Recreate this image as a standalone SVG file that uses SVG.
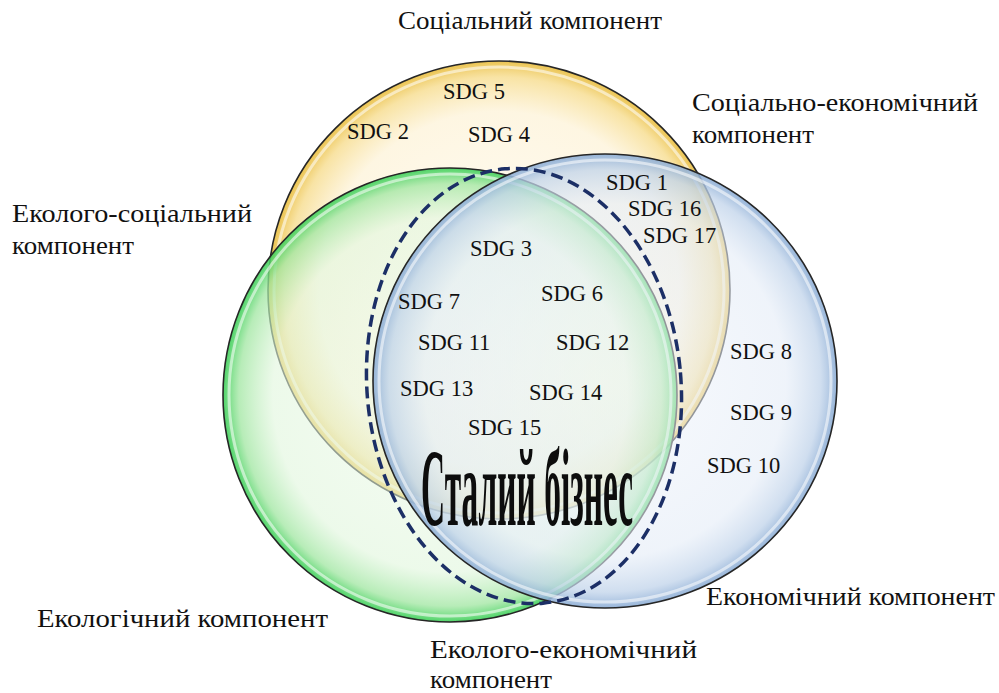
<svg xmlns="http://www.w3.org/2000/svg" width="999" height="693" viewBox="0 0 999 693">
<defs>
<radialGradient id="gY" cx="0.5" cy="0.5" r="0.5">
<stop offset="0" stop-color="#fffbef" stop-opacity="0.6"/>
<stop offset="0.78" stop-color="#fdf1d2" stop-opacity="0.65"/>
<stop offset="0.93" stop-color="#f6da86" stop-opacity="0.75"/>
<stop offset="1" stop-color="#e9bd3e" stop-opacity="0.9"/>
</radialGradient>
<radialGradient id="gG" cx="0.5" cy="0.5" r="0.5">
<stop offset="0" stop-color="#eef9ea" stop-opacity="0.5"/>
<stop offset="0.78" stop-color="#e0f6dc" stop-opacity="0.6"/>
<stop offset="0.93" stop-color="#9fe6a0" stop-opacity="0.75"/>
<stop offset="1" stop-color="#3ccf58" stop-opacity="0.9"/>
</radialGradient>
<radialGradient id="gB" cx="0.5" cy="0.5" r="0.5">
<stop offset="0" stop-color="#f1f5fb" stop-opacity="0.5"/>
<stop offset="0.78" stop-color="#e4ecf7" stop-opacity="0.6"/>
<stop offset="0.93" stop-color="#c0d3ea" stop-opacity="0.75"/>
<stop offset="1" stop-color="#8cadd5" stop-opacity="0.9"/>
</radialGradient>
</defs>
<style>
.rim{stroke:#262626;stroke-width:1.6}
.hl{fill:none;stroke:#ffffff;stroke-width:3;stroke-opacity:0.55}
.sdg{font-family:"Liberation Serif","Times New Roman",serif;font-size:22.5px;fill:#111}
.lbl{font-family:"Liberation Serif","Times New Roman",serif;font-size:26px;fill:#111}
.big{font-family:"Liberation Serif","Times New Roman",serif;font-weight:bold;font-size:110px;fill:#0d0d0d}
.dash{fill:none;stroke:#1c2f66;stroke-width:3.5;stroke-dasharray:12 6}
</style>
<g id="social">
<ellipse cx="499" cy="290" rx="231" ry="229" fill="url(#gY)" class="rim"/>
<ellipse cx="499" cy="290" rx="225" ry="223" class="hl"/>
</g>
<g id="ecological">
<ellipse cx="450" cy="395" rx="227" ry="227" fill="url(#gG)" class="rim"/>
<ellipse cx="450" cy="395" rx="221" ry="221" class="hl"/>
</g>
<g id="economic">
<ellipse cx="605" cy="381" rx="232" ry="227" fill="url(#gB)" class="rim"/>
<ellipse cx="605" cy="381" rx="226" ry="221" class="hl"/>
</g>
<g id="connectors">
<ellipse cx="524" cy="386" rx="157" ry="218" transform="rotate(-5 524 386)" class="dash"/>
</g>
<g id="labels">
<text class="lbl" x="398" y="29" textLength="264" lengthAdjust="spacingAndGlyphs">Соціальний компонент</text>
<text class="lbl" x="692" y="111" textLength="286" lengthAdjust="spacingAndGlyphs">Соціально-економічний</text>
<text class="lbl" x="692" y="143" textLength="122" lengthAdjust="spacingAndGlyphs">компонент</text>
<text class="lbl" x="12" y="222" textLength="240" lengthAdjust="spacingAndGlyphs">Еколого-соціальний</text>
<text class="lbl" x="12" y="254" textLength="122" lengthAdjust="spacingAndGlyphs">компонент</text>
<text class="lbl" x="37" y="627" textLength="291" lengthAdjust="spacingAndGlyphs">Екологічний компонент</text>
<text class="lbl" x="706" y="605" textLength="289" lengthAdjust="spacingAndGlyphs">Економічний компонент</text>
<text class="lbl" x="430" y="658" textLength="267" lengthAdjust="spacingAndGlyphs">Еколого-економічний</text>
<text class="lbl" x="430" y="688" textLength="122" lengthAdjust="spacingAndGlyphs">компонент</text>
</g>
<g id="sdgs">
<text class="sdg" x="443" y="99">SDG 5</text>
<text class="sdg" x="347" y="139">SDG 2</text>
<text class="sdg" x="468" y="142">SDG 4</text>
<text class="sdg" x="606" y="190">SDG 1</text>
<text class="sdg" x="628" y="216">SDG 16</text>
<text class="sdg" x="643" y="243">SDG 17</text>
<text class="sdg" x="470" y="256">SDG 3</text>
<text class="sdg" x="398" y="309">SDG 7</text>
<text class="sdg" x="541" y="301">SDG 6</text>
<text class="sdg" x="418" y="350">SDG 11</text>
<text class="sdg" x="556" y="350">SDG 12</text>
<text class="sdg" x="730" y="359">SDG 8</text>
<text class="sdg" x="400" y="396">SDG 13</text>
<text class="sdg" x="529" y="400">SDG 14</text>
<text class="sdg" x="730" y="420">SDG 9</text>
<text class="sdg" x="468" y="435">SDG 15</text>
<text class="sdg" x="707" y="473">SDG 10</text>
</g>
<g id="title">
<text class="big" x="421" y="525" textLength="212" lengthAdjust="spacingAndGlyphs">Сталий бізнес</text>
</g>
</svg>
